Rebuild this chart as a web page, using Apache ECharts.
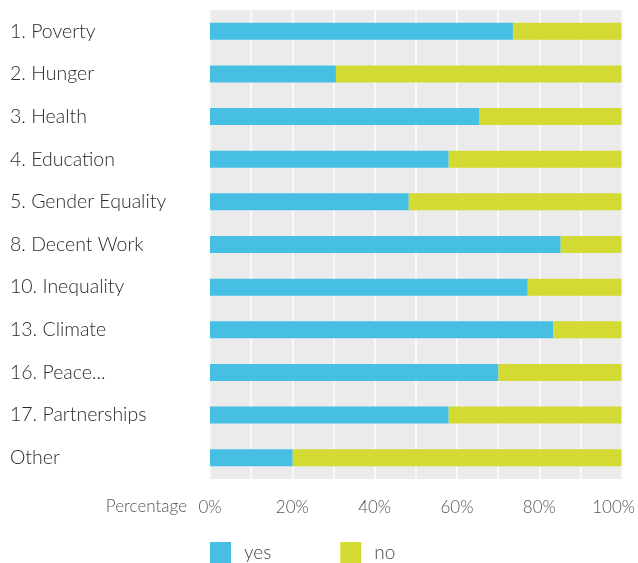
<!DOCTYPE html>
<html>
<head>
<meta charset="utf-8">
<script src="https://cdn.jsdelivr.net/npm/echarts@6/dist/echarts.min.js"></script>
<style>
html,body{margin:0;padding:0;background:#fff;}
#chart{width:638px;height:563px;}
</style>
</head>
<body>
<div id="chart"></div>
<script>
var categories = ["1. Poverty","2. Hunger","3. Health","4. Education","5. Gender Equality","8. Decent Work","10. Inequality","13. Climate","16. Peace...","17. Partnerships","Other"];
var yesValues = [73.6, 30.6, 65.5, 58.0, 48.3, 85.2, 77.2, 83.4, 70.1, 58.0, 20.1];
var noValues = [26.4, 69.4, 34.5, 42.0, 51.7, 14.8, 22.8, 16.6, 29.9, 42.0, 79.9];
var seriesNames = ["yes", "no"];
var xTicks = [0, 20, 40, 60, 80, 100];

var FONT = 'Lato, "Noto Sans", sans-serif';
var chart = echarts.init(document.getElementById('chart'));
chart.setOption({
  animation: false,
  textStyle: {fontFamily: FONT},
  grid: {left: 210, right: 16, top: 10, height: 469, show: true, backgroundColor: '#ebebeb', borderWidth: 0},
  xAxis: {
    type: 'value', min: 0, max: 100, interval: 10,
    axisLine: {show: false}, axisTick: {show: false},
    splitLine: {show: true, lineStyle: {color: '#f9f9f9', width: 2}},
    axisLabel: {
      margin: 20, color: '#555', fontSize: 17, fontWeight: 300, fontFamily: FONT,
      formatter: function (v) {
        if (xTicks.indexOf(v) < 0) return '';
        if (v === 100) return '{r|' + v + '%}';
        return v + '%';
      },
      rich: {r: {color: '#555', fontSize: 17, fontWeight: 300, fontFamily: FONT, padding: [0, 16, 0, 0]}}
    }
  },
  yAxis: {
    type: 'category', data: categories, inverse: true,
    axisLine: {show: false}, axisTick: {show: false}, splitLine: {show: false},
    axisLabel: {align: 'left', margin: 200, color: '#2a2a2a', fontSize: 19.5, fontWeight: 300, fontFamily: FONT}
  },
  legend: {
    left: 210, top: 542, padding: 0, itemWidth: 21, itemHeight: 21, itemGap: 69,
    icon: 'rect',
    textStyle: {color: '#444', fontSize: 19, fontWeight: 300, fontFamily: FONT, padding: [0, 0, 0, 8]},
    data: seriesNames
  },
  graphic: [{
    type: 'text', right: 638 - 187, top: 498,
    style: {text: 'Percentage', fill: '#555', fontSize: 17, fontWeight: 300, fontFamily: FONT}
  }],
  series: [
    {name: seriesNames[0], type: 'bar', stack: 's', barWidth: 17, data: yesValues, itemStyle: {color: '#47bfe2'}},
    {name: seriesNames[1], type: 'bar', stack: 's', barWidth: 17, data: noValues, itemStyle: {color: '#d3da33'}}
  ]
});
</script>
</body>
</html>
